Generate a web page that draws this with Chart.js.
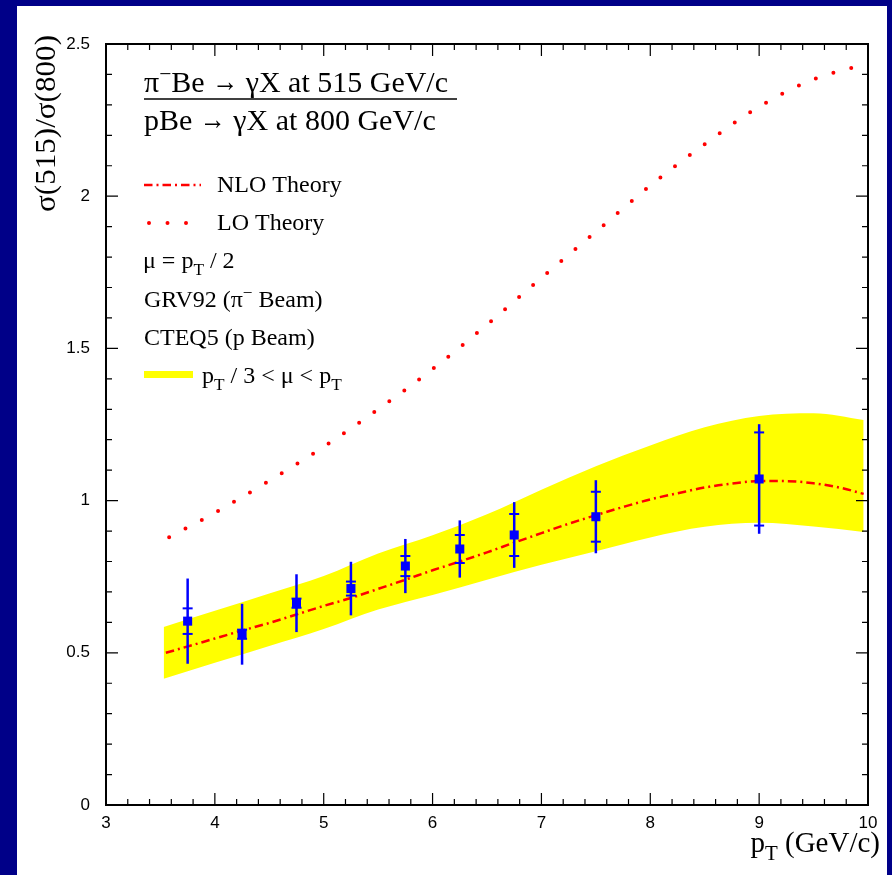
<!DOCTYPE html>
<html>
<head>
<meta charset="utf-8">
<script src="https://cdn.jsdelivr.net/npm/chart.js@4/dist/chart.umd.min.js"></script>
<style>
  html, body { margin: 0; padding: 0; background: #000088; }
  canvas { display: block; }
</style>
</head>
<body>
<canvas id="ratio-chart" width="892" height="875"></canvas>
<script>
// measured ratio sigma(515)/sigma(800)
const ptData = [3.75, 4.25, 4.75, 5.25, 5.75, 6.25, 6.75, 7.5, 9.0];
const ratioData = [0.604, 0.561, 0.663, 0.711, 0.785, 0.841, 0.887, 0.947, 1.071];
const statErr = [0.042, 0.015, 0.015, 0.023, 0.033, 0.046, 0.069, 0.082, 0.153];
const totErr = [0.140, 0.100, 0.095, 0.088, 0.089, 0.094, 0.108, 0.120, 0.180];

// NLO theory, mu = pT/2
const nloPt = [3.55, 3.8, 4.0, 4.25, 4.5, 4.75, 5.0, 5.25, 5.5, 5.75, 6.0, 6.25, 6.5, 6.75, 7.0, 7.25, 7.5, 7.75, 8.0, 8.25, 8.5, 8.75, 9.0, 9.25, 9.5, 9.75, 9.96];
const nloRatio = [0.500, 0.526, 0.547, 0.573, 0.598, 0.626, 0.654, 0.680, 0.710, 0.740, 0.771, 0.800, 0.830, 0.862, 0.893, 0.924, 0.952, 0.979, 1.004, 1.024, 1.043, 1.056, 1.064, 1.064, 1.057, 1.042, 1.022];

// LO theory
const loPt = [3.58, 4.0, 4.5, 5.0, 5.5, 6.0, 6.5, 7.0, 7.5, 8.0, 8.5, 9.0, 9.5, 9.94];
const loRatio = [0.880, 0.960, 1.065, 1.177, 1.300, 1.432, 1.578, 1.732, 1.883, 2.035, 2.171, 2.294, 2.384, 2.431];

// scale band pT/3 < mu < pT
const bandPt = [3.53, 4.0, 4.5, 5.0, 5.5, 6.0, 6.5, 7.0, 7.5, 8.0, 8.5, 9.0, 9.5, 9.96];
const bandLow = [0.415, 0.467, 0.522, 0.578, 0.642, 0.690, 0.740, 0.789, 0.834, 0.879, 0.914, 0.927, 0.915, 0.897];
const bandHigh = [0.585, 0.638, 0.695, 0.752, 0.826, 0.886, 0.955, 1.036, 1.113, 1.181, 1.241, 1.278, 1.287, 1.265];

const xTickLabels = ["3", "4", "5", "6", "7", "8", "9", "10"];
const yTickLabels = ["0", "0.5", "1", "1.5", "2", "2.5"];

const SERIF = '"Liberation Serif", "Times New Roman", serif';
const SANS = '"Liberation Sans", Arial, sans-serif';
const RED = "#ff0000";
const BLUE = "#0000ff";
const NLO_DASH = [8.5, 4, 2, 4];
const LO_DASH = [0, 18.5];

const pts = (xs, ys) => xs.map((x, i) => ({ x: x, y: ys[i] }));
const isMajor = (v, step) => Math.abs(v / step - Math.round(v / step)) < 1e-6;

// text with sub/superscripts: parts = [[text, "n"|"sub"|"sup"|"wide", width?], ...]
function richText(ctx, parts, x, y, size) {
  let cx = x;
  parts.forEach(([txt, mode, width]) => {
    let fs = size, dy = 0;
    if (mode === "sub") { fs = size * 0.72; dy = size * 0.28; }
    if (mode === "sup") { fs = size * 0.72; dy = -size * 0.38; }
    ctx.font = fs + "px " + SERIF;
    const w = ctx.measureText(txt).width;
    if (mode === "wide") {
      ctx.save();
      ctx.translate(cx, y - 1);
      ctx.scale(width / w, 1);
      ctx.fillText(txt, 0, 0);
      ctx.restore();
      cx += width;
    } else {
      ctx.fillText(txt, cx, y + dy);
      cx += w;
    }
  });
  return cx - x;
}
function richWidth(ctx, parts, size) {
  let w = 0;
  parts.forEach(([txt, mode]) => {
    ctx.font = (mode === "n" ? size : size * 0.72) + "px " + SERIF;
    w += ctx.measureText(txt).width;
  });
  return w;
}

const decorations = {
  id: "decorations",
  beforeDraw(chart) {
    const ctx = chart.ctx;
    ctx.save();
    ctx.fillStyle = "#000088";
    ctx.fillRect(0, 0, chart.width, chart.height);
    ctx.fillStyle = "#ffffff";
    ctx.fillRect(17, 6, 870, 869);
    ctx.restore();
  },
  afterDatasetsDraw(chart) {
    const ctx = chart.ctx;
    const xs = chart.scales.x, ys = chart.scales.y;
    ctx.save();
    ctx.strokeStyle = BLUE;
    ptData.forEach((p, i) => {
      const px = xs.getPixelForValue(p);
      ctx.lineWidth = 2.5;
      ctx.beginPath();
      ctx.moveTo(px, ys.getPixelForValue(ratioData[i] - totErr[i]));
      ctx.lineTo(px, ys.getPixelForValue(ratioData[i] + totErr[i]));
      ctx.stroke();
      ctx.lineWidth = 2;
      [ratioData[i] - statErr[i], ratioData[i] + statErr[i]].forEach((v) => {
        const py = ys.getPixelForValue(v);
        ctx.beginPath();
        ctx.moveTo(px - 5, py);
        ctx.lineTo(px + 5, py);
        ctx.stroke();
      });
    });
    ctx.restore();
  },
  afterDraw(chart) {
    const ctx = chart.ctx;
    const a = chart.chartArea;
    const xs = chart.scales.x, ys = chart.scales.y;
    ctx.save();
    // frame
    ctx.strokeStyle = "#000";
    ctx.lineWidth = 2;
    ctx.strokeRect(a.left, a.top, a.right - a.left, a.bottom - a.top);
    // inward ticks on all four sides
    ctx.lineWidth = 1.2;
    xs.ticks.forEach((t) => {
      const px = xs.getPixelForValue(t.value);
      const len = isMajor(t.value, 1) ? 12 : 6;
      ctx.beginPath();
      ctx.moveTo(px, a.bottom); ctx.lineTo(px, a.bottom - len);
      ctx.moveTo(px, a.top); ctx.lineTo(px, a.top + len);
      ctx.stroke();
    });
    ys.ticks.forEach((t) => {
      const py = ys.getPixelForValue(t.value);
      const len = isMajor(t.value, 0.5) ? 12 : 6;
      ctx.beginPath();
      ctx.moveTo(a.left, py); ctx.lineTo(a.left + len, py);
      ctx.moveTo(a.right, py); ctx.lineTo(a.right - len, py);
      ctx.stroke();
    });

    ctx.fillStyle = "#000";
    ctx.textBaseline = "alphabetic";
    ctx.textAlign = "left";

    // header fraction
    richText(ctx, [["π", "n"], ["−", "sup"], ["Be ", "n"], ["→", "wide", 26], [" γX at 515 GeV/c", "n"]], 144, 92, 30);
    ctx.lineWidth = 1.5;
    ctx.beginPath();
    ctx.moveTo(144, 99); ctx.lineTo(457, 99);
    ctx.stroke();
    richText(ctx, [["pBe ", "n"], ["→", "wide", 26], [" γX at 800 GeV/c", "n"]], 144, 130, 30);

    // legend samples
    ctx.strokeStyle = RED;
    ctx.lineWidth = 2.5;
    ctx.setLineDash(NLO_DASH);
    ctx.beginPath(); ctx.moveTo(144, 185); ctx.lineTo(201, 185); ctx.stroke();
    ctx.lineWidth = 4;
    ctx.lineCap = "round";
    ctx.setLineDash(LO_DASH);
    ctx.beginPath(); ctx.moveTo(149, 223); ctx.lineTo(188, 223); ctx.stroke();
    ctx.setLineDash([]);
    ctx.lineCap = "butt";
    ctx.fillStyle = "#ffff00";
    ctx.fillRect(144, 371, 49, 7);

    ctx.fillStyle = "#000";
    richText(ctx, [["NLO Theory", "n"]], 217, 192, 24);
    richText(ctx, [["LO Theory", "n"]], 217, 230, 24);
    richText(ctx, [["μ = p", "n"], ["T", "sub"], [" / 2", "n"]], 143, 268, 24);
    richText(ctx, [["GRV92 (π", "n"], ["−", "sup"], [" Beam)", "n"]], 144, 307, 24);
    richText(ctx, [["CTEQ5 (p Beam)", "n"]], 144, 345, 24);
    richText(ctx, [["p", "n"], ["T", "sub"], [" / 3 < μ < p", "n"], ["T", "sub"]], 202, 383, 24);

    // axis titles
    const xt = [["p", "n"], ["T", "sub"], [" (GeV/c)", "n"]];
    richText(ctx, xt, 880 - richWidth(ctx, xt, 29), 852, 29);
    ctx.save();
    ctx.translate(55, 35);
    ctx.rotate(-Math.PI / 2);
    ctx.font = "29px " + SERIF;
    const yt = "σ(515)/σ(800)";
    const k = 177 / ctx.measureText(yt).width;
    ctx.scale(k, 1);
    ctx.textAlign = "right";
    ctx.fillText(yt, 0, 0);
    ctx.restore();
    ctx.restore();
  }
};

new Chart(document.getElementById("ratio-chart"), {
  type: "line",
  data: {
    datasets: [
      { label: "band low", data: pts(bandPt, bandLow), borderWidth: 0, pointRadius: 0, fill: false,
        cubicInterpolationMode: "monotone", order: 4 },
      { label: "pT/3 < mu < pT", data: pts(bandPt, bandHigh), borderWidth: 0, pointRadius: 0,
        backgroundColor: "#ffff00", fill: { target: 0 }, cubicInterpolationMode: "monotone", order: 3 },
      { label: "LO Theory", data: pts(loPt, loRatio), borderColor: RED, borderWidth: 4, borderDash: LO_DASH,
        borderCapStyle: "round", pointRadius: 0, fill: false, cubicInterpolationMode: "monotone", order: 2 },
      { label: "NLO Theory", data: pts(nloPt, nloRatio), borderColor: RED, borderWidth: 2.5, borderDash: NLO_DASH,
        pointRadius: 0, fill: false, cubicInterpolationMode: "monotone", order: 1 },
      { type: "scatter", label: "data", data: pts(ptData, ratioData), pointStyle: "rect", pointRadius: 6.4,
        backgroundColor: BLUE, borderColor: BLUE, borderWidth: 0, order: 0 }
    ]
  },
  options: {
    responsive: false,
    animation: false,
    layout: { padding: { left: 0, top: 44, right: 24, bottom: 0 } },
    plugins: { legend: { display: false }, tooltip: { enabled: false } },
    scales: {
      x: {
        type: "linear", min: 3, max: 10,
        grid: { display: false, drawTicks: false }, border: { display: false },
        afterFit: (s) => { s.height = 70; },
        ticks: {
          stepSize: 0.2, autoSkip: false, maxRotation: 0, padding: 8, color: "#000",
          font: { family: SANS, size: 17 },
          callback: (v) => isMajor(v, 1) ? xTickLabels[Math.round(v) - 3] : ""
        }
      },
      y: {
        min: 0, max: 2.5,
        grid: { display: false, drawTicks: false }, border: { display: false },
        afterFit: (s) => { s.width = 106; },
        ticks: {
          stepSize: 0.1, autoSkip: false, padding: 16, color: "#000",
          font: { family: SANS, size: 17 },
          callback: (v) => isMajor(v, 0.5) ? yTickLabels[Math.round(v * 2)] : ""
        }
      }
    }
  },
  plugins: [decorations]
});
</script>
</body>
</html>
